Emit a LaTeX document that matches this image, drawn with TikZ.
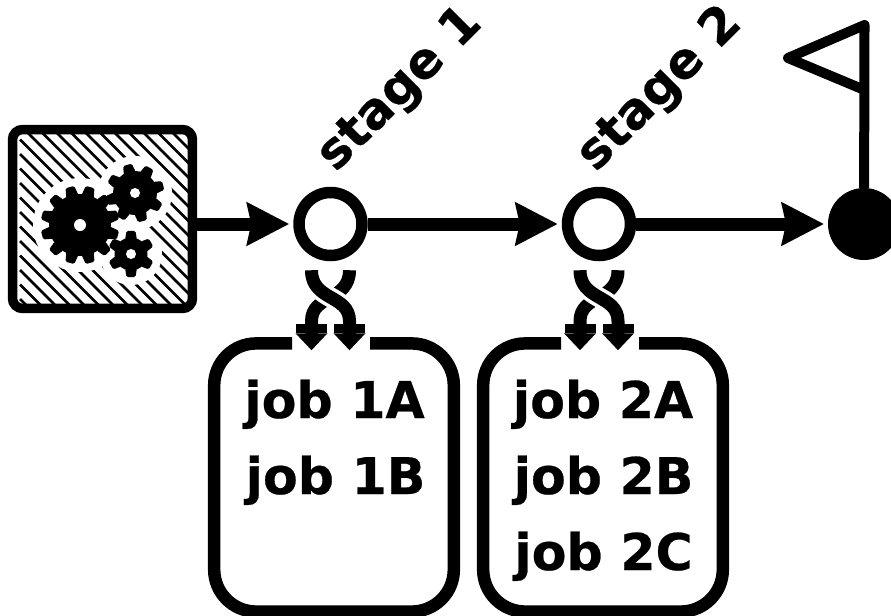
\documentclass[tikz,border=0pt]{standalone}
\usepackage{fontspec}
\setmainfont[BoldFeatures={FakeBold=0.5}]{DejaVu Sans}
\usetikzlibrary{arrows.meta,calc}
\tikzset{
	srcbox/.style={draw, line width=.19cm, rounded corners=.2cm, minimum width=3.6cm, minimum height=3.58cm, inner sep=0},
	stagedot/.style={circle, draw, line width=.23cm, fill=white, minimum size=1.26cm, inner sep=0},
	enddot/.style={circle, draw, fill=black, line width=.02cm, minimum size=1.42cm, inner sep=0},
	jobarea/.style={minimum width=4.78cm, minimum height=5.35cm, inner sep=0},
	jobline/.style={line width=.25cm, rounded corners=.84cm},
	jobtext/.style={font=\fontsize{28.8}{34}\bfseries\selectfont, inner sep=0, anchor=base},
	stagetext/.style={font=\fontsize{28.4}{34}\bfseries\selectfont, inner sep=0, anchor=base west, rotate=45},
	flow/.style={-{Stealth[length=.84cm, width=.84cm, inset=.08cm]}, line width=.26cm, shorten >=.08cm},
	fork/.style={-{Rectangle[length=.18cm, width=.62cm, sep=0pt]Stealth[length=.34cm, width=.62cm, inset=0pt]}, line width=.26cm},
	forkhalo/.style={white, line width=.4cm},
}
% one gear: x, y, outer radius, root radius, teeth, start angle
\newcommand{\drawgear}[6]{
	\begin{scope}[shift={(#1,#2)}]
		\fill[black] (0,0) circle (#4);
		\foreach \k in {1,...,#5} {
			\pgfmathsetmacro{\a}{#6+360*\k/#5}
			\pgfmathsetmacro{\tip}{4.5/#3*57.3}
			\pgfmathsetmacro{\base}{6.5/#4*57.3}
			\fill[black, rounded corners=.03cm] (\a-\base:#4-1) -- (\a-\tip:#3) -- (\a+\tip:#3) -- (\a+\base:#4-1) -- cycle;
		}
	\end{scope}
}
\begin{document}
\begin{tikzpicture}[x=.02cm, y=-.02cm]
	\useasboundingbox (0,0) rectangle (891,615);
	\clip (0,0) rectangle (891,615);
	\node[srcbox] (src) at (102.5,219) {};
	\node[stagedot] (s1) at (330.5,224) {};
	\node[stagedot] (s2) at (599,224) {};
	\node[enddot] (finish) at (864,224) {};
	\node[jobarea] (j1) at (334,477.5) {};
	\node[jobarea] (j2) at (603,477.5) {};
	\coordinate (flagtop) at (864.5,25);
	\coordinate (flagtip) at (788,58);
	\coordinate (flagfoot) at (864.5,90);

	% hatching and gears
	\begin{scope}
		\clip ($(src.north west)+(9,9)$) rectangle ($(src.south east)+(-9,-9)$);
		\foreach \c in {-180,-165.5,...,180} {
			\draw[line width=.05cm] (20,131+\c) -- ++(200,200);
		}
		\fill[white] (80,225) circle (47);
		\fill[white] (135,193) circle (37);
		\fill[white] (131,254) circle (31);
	\end{scope}
	\drawgear{80}{225}{39.5}{31}{12}{15}
	\drawgear{135}{193}{29.5}{22}{8}{30}
	\drawgear{131}{254}{23.5}{16.5}{6}{30}
	\fill[white] (80,225) circle (6);
	\fill[white] (135,193) circle (5);
	\fill[white] (131,254) circle (5);

	% main line
	\draw[flow] (src.east |- s1.west) -- (s1);
	\draw[flow] (s1) -- (s2);
	\draw[flow] (s2) -- (finish);
	\draw[line width=.2cm, line join=round] (finish) -- (flagtop) -- (flagtip) -- (flagfoot);

	\node[stagetext] (label1) at (335.5,173) {stage 1};
	\node[stagetext] (label2) at (595.5,173) {stage 2};

	% job boxes and crossing arrows
	\foreach \i/\s in {1/s1, 2/s2} {
		\draw[jobline] ($(j\i.north)+(-42,0)$) -- (j\i.north west) -- (j\i.south west) -- (j\i.south east) -- (j\i.north east) -- ($(j\i.north)+(36,0)$);
		\draw[fork] ($(\s.south)+(19,9)$) .. controls ($(\s.south)+(19,40)$) and ($(\s.south)+(-19,33)$) .. ($(\s.south)+(-19,60)$) -- ($(\s.south)+(-19,89)$);
		\draw[forkhalo] ($(\s.south)+(-19,9)$) .. controls ($(\s.south)+(-19,40)$) and ($(\s.south)+(19,33)$) .. ($(\s.south)+(19,60)$);
		\draw[fork] ($(\s.south)+(-19,9)$) .. controls ($(\s.south)+(-19,40)$) and ($(\s.south)+(19,33)$) .. ($(\s.south)+(19,60)$) -- ($(\s.south)+(19,89)$);
	}
	\node[jobtext] (j1a) at (334.5,418) {job 1A};
	\node[jobtext] (j1b) at (335.5,494) {job 1B};
	\node[jobtext] (j2a) at (603,418) {job 2A};
	\node[jobtext] (j2b) at (603.5,494) {job 2B};
	\node[jobtext] (j2c) at (603.5,570) {job 2C};
\end{tikzpicture}
\end{document}
